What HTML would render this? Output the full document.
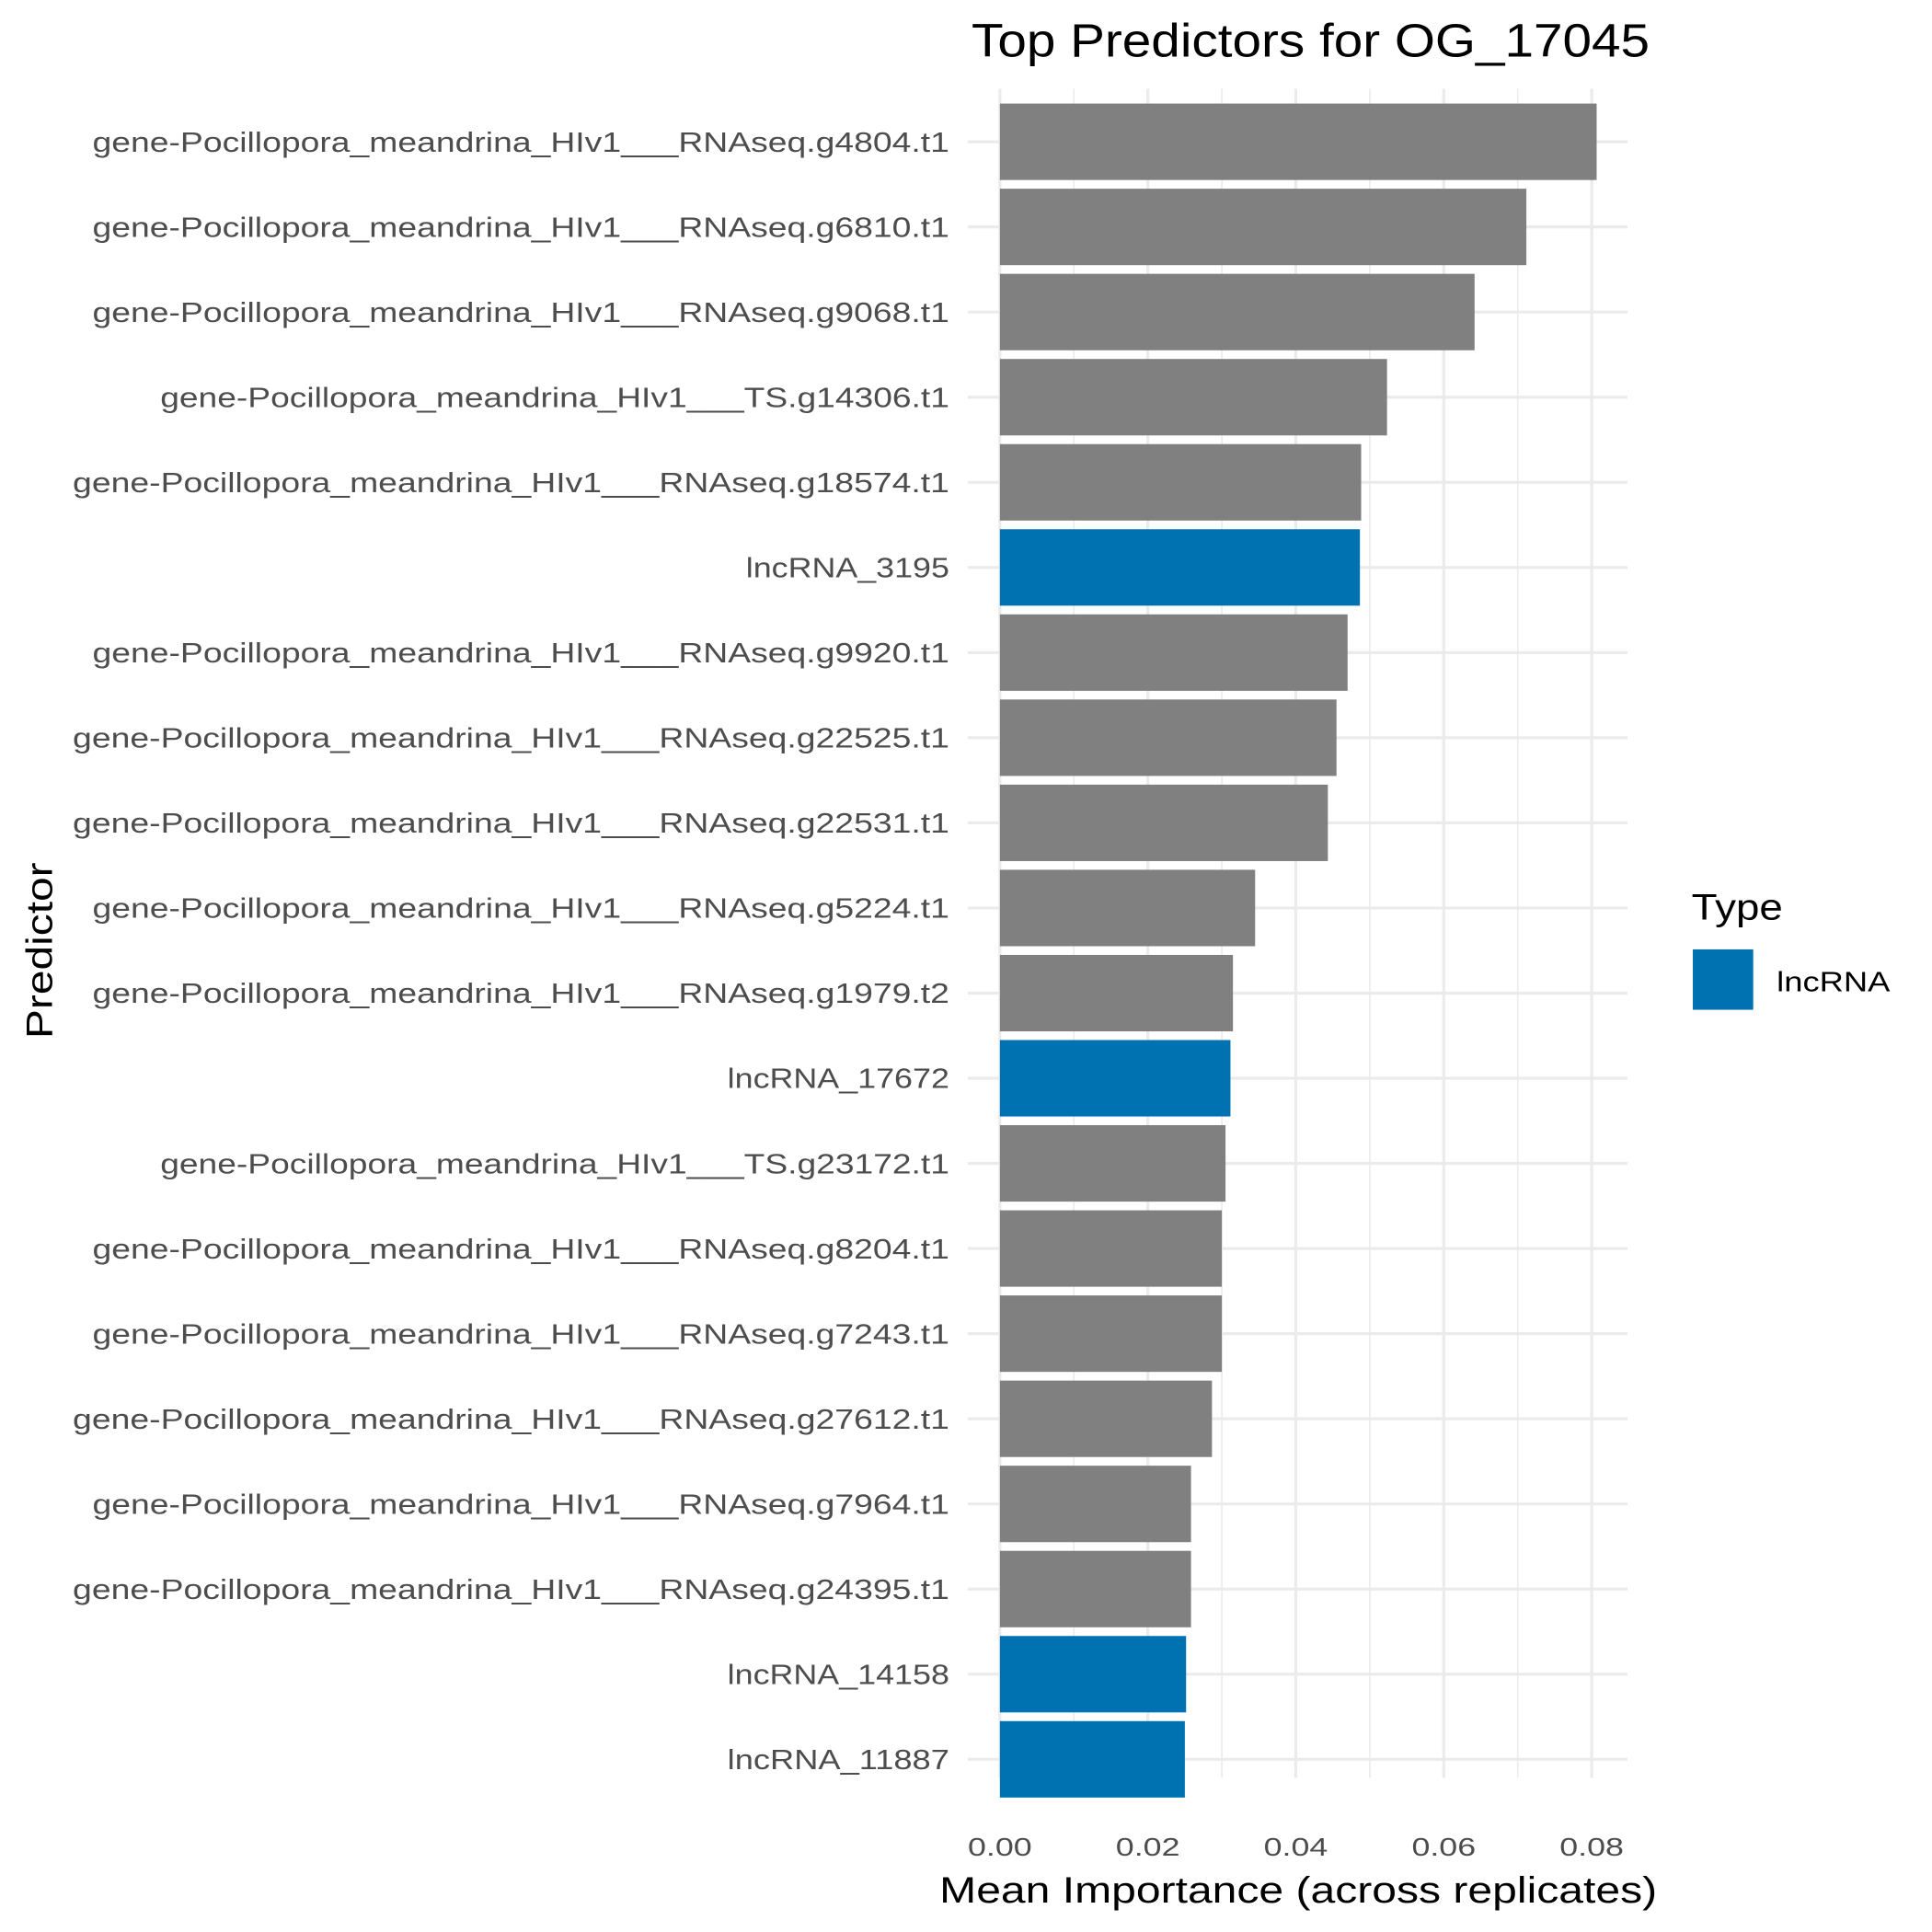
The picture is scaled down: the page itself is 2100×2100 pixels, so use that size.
<!DOCTYPE html>
<html><head><meta charset="utf-8"><style>html,body{margin:0;padding:0;background:#fff}svg{display:block}</style></head>
<body>
<svg width="2100" height="2100" viewBox="0 0 1567 1567" xmlns="http://www.w3.org/2000/svg" font-family="'Liberation Sans', 'DejaVu Sans', sans-serif">
<rect width="1567" height="1567" fill="#fff"/>
<g stroke="#ebebeb">
<g stroke-width="1.2">
<line x1="871" y1="72" x2="871" y2="1442"/><line x1="991" y1="72" x2="991" y2="1442"/><line x1="1111" y1="72" x2="1111" y2="1442"/><line x1="1231" y1="72" x2="1231" y2="1442"/>
</g>
<g stroke-width="2.4">
<line x1="811" y1="72" x2="811" y2="1442"/><line x1="931" y1="72" x2="931" y2="1442"/><line x1="1051" y1="72" x2="1051" y2="1442"/><line x1="1171" y1="72" x2="1171" y2="1442"/><line x1="1291" y1="72" x2="1291" y2="1442"/>
</g>
<g stroke-width="2.4" id="hg"></g>
</g>
<g id="rows"></g>
<g font-size="21" fill="#4d4d4d" text-anchor="middle">
<text x="811" y="1505" textLength="52" lengthAdjust="spacingAndGlyphs">0.00</text><text x="931" y="1505" textLength="52" lengthAdjust="spacingAndGlyphs">0.02</text><text x="1051" y="1505" textLength="52" lengthAdjust="spacingAndGlyphs">0.04</text><text x="1171" y="1505" textLength="52" lengthAdjust="spacingAndGlyphs">0.06</text><text x="1291" y="1505" textLength="52" lengthAdjust="spacingAndGlyphs">0.08</text>
</g>
<text x="1063" y="46" font-size="38" text-anchor="middle" textLength="550" lengthAdjust="spacingAndGlyphs" fill="#000">Top Predictors for OG_17045</text>
<text x="1053" y="1543" font-size="30" text-anchor="middle" textLength="582" lengthAdjust="spacingAndGlyphs" fill="#000">Mean Importance (across replicates)</text>
<text transform="translate(42,771) rotate(-90)" font-size="30" text-anchor="middle" textLength="143" lengthAdjust="spacingAndGlyphs" fill="#000">Predictor</text>
<text x="1372" y="746" font-size="30" textLength="74" lengthAdjust="spacingAndGlyphs" fill="#000">Type</text>
<rect x="1373" y="770" width="49" height="49" fill="#0072B2"/>
<text x="1441" y="804" font-size="23" textLength="92" lengthAdjust="spacingAndGlyphs" fill="#000">lncRNA</text>
<script>
var d=[["gene-Pocillopora_meandrina_HIv1___RNAseq.g4804.t1",1295,0],["gene-Pocillopora_meandrina_HIv1___RNAseq.g6810.t1",1238,0],["gene-Pocillopora_meandrina_HIv1___RNAseq.g9068.t1",1196,0],["gene-Pocillopora_meandrina_HIv1___TS.g14306.t1",1125,0],["gene-Pocillopora_meandrina_HIv1___RNAseq.g18574.t1",1104,0],["lncRNA_3195",1103,1],["gene-Pocillopora_meandrina_HIv1___RNAseq.g9920.t1",1093,0],["gene-Pocillopora_meandrina_HIv1___RNAseq.g22525.t1",1084,0],["gene-Pocillopora_meandrina_HIv1___RNAseq.g22531.t1",1077,0],["gene-Pocillopora_meandrina_HIv1___RNAseq.g5224.t1",1018,0],["gene-Pocillopora_meandrina_HIv1___RNAseq.g1979.t2",1000,0],["lncRNA_17672",998,1],["gene-Pocillopora_meandrina_HIv1___TS.g23172.t1",994,0],["gene-Pocillopora_meandrina_HIv1___RNAseq.g8204.t1",991,0],["gene-Pocillopora_meandrina_HIv1___RNAseq.g7243.t1",991,0],["gene-Pocillopora_meandrina_HIv1___RNAseq.g27612.t1",983,0],["gene-Pocillopora_meandrina_HIv1___RNAseq.g7964.t1",966,0],["gene-Pocillopora_meandrina_HIv1___RNAseq.g24395.t1",966,0],["lncRNA_14158",962,1],["lncRNA_11887",961,1]];
var NS="http://www.w3.org/2000/svg",hg=document.getElementById("hg"),rows=document.getElementById("rows");
function el(t,a,p,txt){var e=document.createElementNS(NS,t);for(var k in a)e.setAttribute(k,a[k]);if(txt)e.textContent=txt;p.appendChild(e);return e;}
d.forEach(function(r,i){var cy=115+i*69.05;
el("line",{x1:785,x2:1320,y1:cy,y2:cy},hg);
el("rect",{x:811,y:cy-31,width:r[1]-811,height:62,fill:r[2]?"#0072B2":"#808080"},rows);
var w;var s=r[0];
if(s.indexOf("lncRNA")==0)w=s.length>11?180:165;else if(s.indexOf("TS.")>0)w=640;else if(/g\d{5}/.test(s))w=711;else w=695;
el("text",{x:770,y:cy+8,"font-size":23,"text-anchor":"end",fill:"#4d4d4d",textLength:w,lengthAdjust:"spacingAndGlyphs"},rows,s);
});
</script>
</svg>
</body></html>
